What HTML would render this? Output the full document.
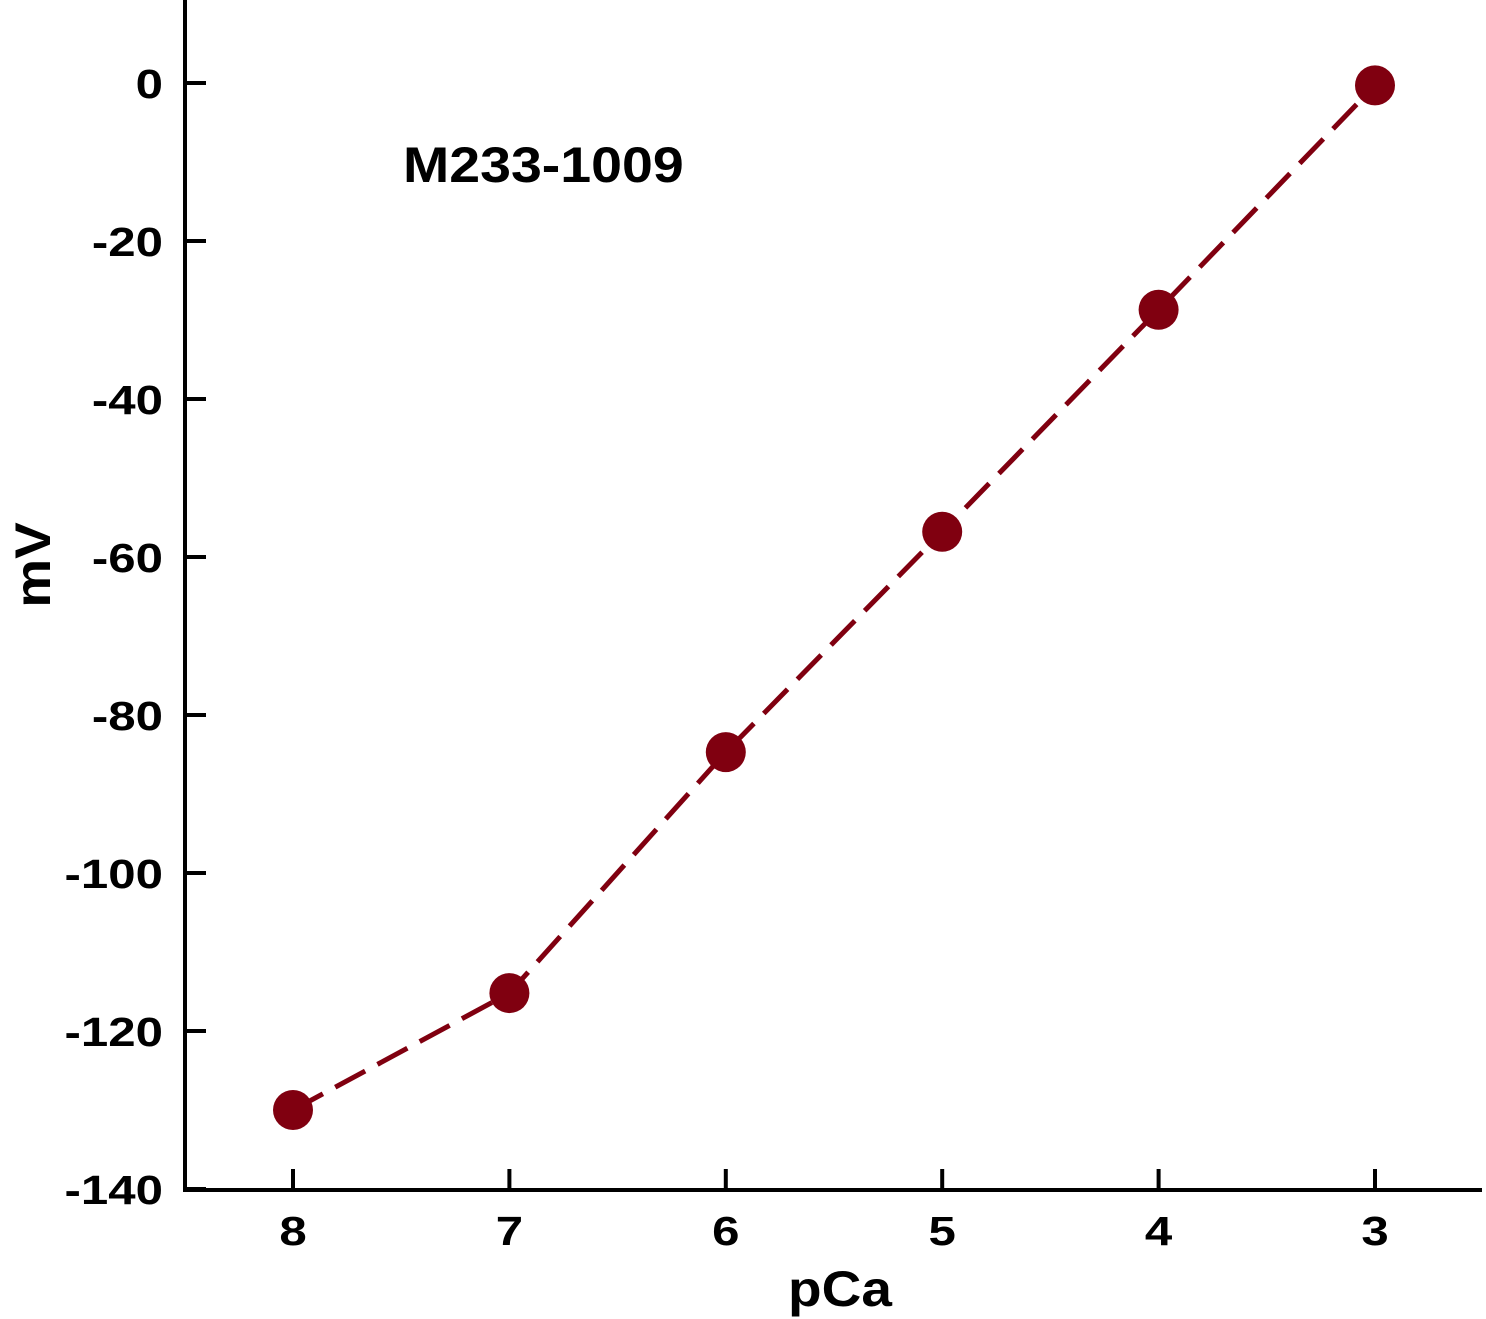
<!DOCTYPE html>
<html><head><meta charset="utf-8"><style>
html,body{margin:0;padding:0;background:#fff;}
svg{display:block;font-family:"Liberation Sans",Arial,sans-serif;font-weight:bold;}
</style></head><body>
<svg id="chart" width="1486" height="1319" viewBox="0 0 1486 1319" xmlns="http://www.w3.org/2000/svg">
<g id="axes"></g>
<g id="marks"></g>
<g transform="translate(403,182) scale(1.11,1)"><text x="0" y="0" font-size="50" fill="#000">M233-1009</text></g>
<g transform="translate(840,1306) scale(1.1,1)"><text x="0" y="0" font-size="50" text-anchor="middle" fill="#000">pCa</text></g>
<g transform="translate(50,565) rotate(-90) scale(1.1,1)"><text x="0" y="0" font-size="50" text-anchor="middle" fill="#000">mV</text></g>
</svg>
<script>
const categories = [8, 7, 6, 5, 4, 3];
const values = [-130, -115.2, -84.7, -56.8, -28.7, -0.3];
const yTicks = [0, -20, -40, -60, -80, -100, -120, -140];
const xTicks = [8, 7, 6, 5, 4, 3];

const NS = "http://www.w3.org/2000/svg";
const X0 = 293, XSTEP = 216.4;
function xs(p){ return X0 + (8 - p) * XSTEP; }
function ys(v){ return 83 - v * 7.9; }
function mk(tag, attrs, parent){
  const e = document.createElementNS(NS, tag);
  for (const k in attrs) e.setAttribute(k, attrs[k]);
  parent.appendChild(e); return e;
}
const axes = document.getElementById('axes');
const marks = document.getElementById('marks');
let el = mk('line', {x1:185, y1:0, x2:185, y2:1192, stroke:'#000','stroke-width':4}, axes);


el = mk('line', {x1:183, y1:1190, x2:1482, y2:1190, stroke:'#000','stroke-width':4}, axes);


yTicks.forEach(t => {
  const y = ys(t);
  const tk = mk('line', {x1:185, y1:y, x2:206, y2:y, stroke:'#000','stroke-width':4}, axes);
  
  
  const g = mk('g', {transform:'translate(163,' + (y+15) + ') scale(1.2,1)'}, axes);
  const tx = mk('text', {x:0, y:0, 'font-size':41, 'text-anchor':'end', fill:'#000'}, g);
  tx.textContent = t;
  
  
});
xTicks.forEach(t => {
  const x = xs(t);
  const tk = mk('line', {x1:x, y1:1190, x2:x, y2:1169, stroke:'#000','stroke-width':4}, axes);
  
  
  const g = mk('g', {transform:'translate(' + x + ',1245) scale(1.2,1)'}, axes);
  const tx = mk('text', {x:0, y:0, 'font-size':41, 'text-anchor':'middle', fill:'#000'}, g);
  tx.textContent = t;
  
  
});
const pts = categories.map((c,i) => xs(c) + ',' + ys(values[i])).join(' ');
el = mk('polyline', {points:pts, fill:'none', stroke:'#800010', 'stroke-width':5, 'stroke-dasharray':'34,14'}, marks);


categories.forEach((c,i) => {
  const p = mk('circle', {cx:xs(c), cy:ys(values[i]), r:20, fill:'#800010'}, marks);
  
  
});
</script>
</body></html>
